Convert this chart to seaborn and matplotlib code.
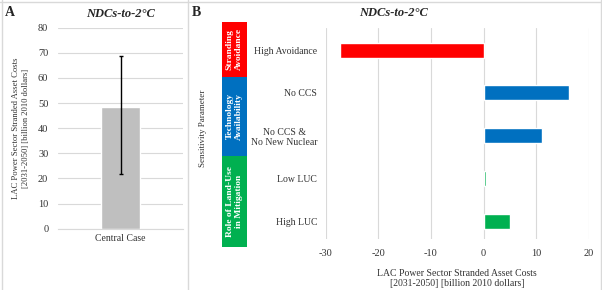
import matplotlib
matplotlib.use("Agg")
import matplotlib.pyplot as plt
import matplotlib.transforms as mtransforms
from matplotlib.patches import Rectangle
from matplotlib.lines import Line2D
import seaborn as sns
import pandas as pd

# Panel A data
central_label = ["Central Case"]
central_value = [48.5]
central_low = [21.7]
central_high = [68.6]

# Panel B data
params = ["High Avoidance", "No CCS", "No CCS &\nNo New Nuclear", "Low LUC", "High LUC"]
param_values = [-27.3, 16.3, 11.1, 0.5, 5.0]
param_groups = ["Stranding\nAvoidance", "Technology\nAvailability", "Technology\nAvailability",
                "Role of Land-Use\nin Mitigation", "Role of Land-Use\nin Mitigation"]
group_colors = {"Stranding\nAvoidance": "#FF0000",
                "Technology\nAvailability": "#0070C0",
                "Role of Land-Use\nin Mitigation": "#00B050"}

sns.set_style("white")
plt.rcParams['font.family'] = ['Liberation Serif', 'DejaVu Serif']
plt.rcParams['axes.unicode_minus'] = False
text_col = "#333333"
grid_col = "#D9D9D9"

fig = plt.figure(figsize=(6.02, 2.90), dpi=100)
W, H = 602, 290

def px_axes(l, t, r, b):
    return fig.add_axes([l / W, 1 - b / H, (r - l) / W, (b - t) / H])

# ---- Panel A ----
axA = px_axes(58, 27.7, 183, 228.7)
dfA = pd.DataFrame({"case": central_label, "value": central_value})
sns.barplot(data=dfA, x="case", y="value", color="#BFBFBF", saturation=1,
            width=0.31, ax=axA, zorder=2)
axA.errorbar(x=[0], y=central_value,
             yerr=[[v - lo for v, lo in zip(central_value, central_low)],
                   [hi - v for v, hi in zip(central_value, central_high)]],
             fmt="none", ecolor="black", elinewidth=1, capsize=1.5, zorder=3)
axA.set_xlim(-0.5, 0.5)
axA.set_ylim(0, 80)
axA.set_yticks(range(0, 81, 10))
axA.yaxis.grid(True, color=grid_col, linewidth=0.8)
axA.set_axisbelow(True)
for s in ["top", "right", "left"]:
    axA.spines[s].set_visible(False)
axA.spines["bottom"].set_color(grid_col)
axA.tick_params(length=0, labelsize=7.5, colors=text_col)
axA.tick_params(axis="y", pad=7)
axA.tick_params(axis="x", pad=4, labelsize=7)
axA.set_xlabel("")
axA.set_ylabel("LAC Power Sector Stranded Asset Costs\n[2031-2050] [billion 2010 dollars]",
               fontsize=6.2, color=text_col, labelpad=6)
axA.set_title("NDCs-to-2°C", fontsize=9, fontweight="bold", style="italic", pad=8)

# ---- Panel B ----
axB = px_axes(325.7, 28, 588.7, 239)
dfB = pd.DataFrame({"param": params, "value": param_values, "group": param_groups})
sns.barplot(data=dfB, y="param", x="value", hue="group", palette=group_colors, saturation=1,
            orient="h", width=0.35, dodge=False, legend=False, ax=axB, zorder=2)
axB.set_xlim(-30, 20)
axB.set_xticks(range(-30, 21, 10))
axB.set_ylim(4.42, -0.52)
axB.xaxis.grid(True, color=grid_col, linewidth=0.8)
axB.set_axisbelow(True)
for s in ["top", "right", "left", "bottom"]:
    axB.spines[s].set_visible(False)
axB.tick_params(length=0, labelsize=7.5, colors=text_col)
axB.tick_params(axis="y", pad=6, labelsize=7)
axB.tick_params(axis="x", pad=7)
for lab in axB.get_yticklabels():
    lab.set_multialignment("center")
axB.set_ylabel("")
axB.set_xlabel("LAC Power Sector Stranded Asset Costs\n[2031-2050] [billion 2010 dollars]",
               fontsize=7, color=text_col, labelpad=8)
# panel B title is centred over the whole panel
fig.text(394 / W, 1 - 13 / H, "NDCs-to-2°C", fontsize=9, fontweight="bold", style="italic",
         ha="center", va="center")

# group boxes left of the tick labels
blend = mtransforms.blended_transform_factory(fig.transFigure, axB.transData)
spans = {"Stranding\nAvoidance": (-0.66, 0.62),
         "Technology\nAvailability": (0.62, 2.47),
         "Role of Land-Use\nin Mitigation": (2.47, 4.6)}
for g, (y0, y1) in spans.items():
    x0, x1 = 221.7 / W, 247.3 / W
    fig.add_artist(Rectangle((x0, y0), x1 - x0, y1 - y0, transform=blend,
                             facecolor=group_colors[g], edgecolor="none", clip_on=False))
    fig.text((x0 + x1) / 2, (y0 + y1) / 2, g, transform=blend, rotation=90,
             ha="center", va="center", color="white", fontsize=6.8, fontweight="bold",
             multialignment="center")

fig.text(203 / W, 1 - 128 / H, "Sensitivity Parameter", rotation=90, ha="center",
         va="center", fontsize=6.5, color=text_col)

# panel letters and frame
fig.text(5 / W, 1 - 13 / H, "A", fontsize=10, fontweight="bold", va="center")
fig.text(192 / W, 1 - 13 / H, "B", fontsize=10, fontweight="bold", va="center")
for xs, ys in [([1.5, 1.5], [0, H]), ([188, 188], [0, H]), ([600.5, 600.5], [0, H]),
               ([0, W], [1.5, 1.5])]:
    fig.add_artist(Line2D([x / W for x in xs], [1 - y / H for y in ys],
                          transform=fig.transFigure, color=grid_col, linewidth=1))

fig.savefig("out.png", dpi=100)
